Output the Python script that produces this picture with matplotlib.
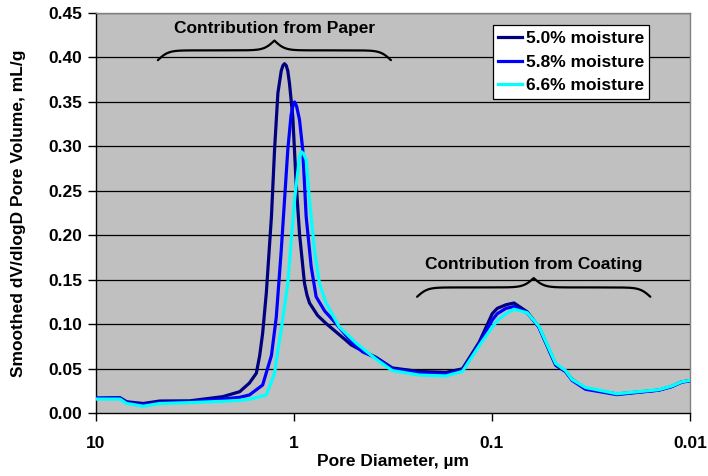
import numpy as np
import matplotlib.pyplot as plt
from matplotlib.ticker import FixedLocator, FixedFormatter, NullLocator

plt.rcParams['font.family'] = ['Liberation Sans', 'DejaVu Sans']
plt.rcParams['font.weight'] = 'bold'

# pore diameter (um) and smoothed dV/dlogD (mL/g) for each moisture level
d_50 = [10, 7.57, 7.0, 5.78, 4.76, 3.36, 2.29, 1.88, 1.68, 1.55, 1.49, 1.44, 1.38, 1.30,
        1.254, 1.206, 1.16, 1.137, 1.117, 1.095, 1.075, 1.054, 1.014, 0.975, 0.938, 0.885,
        0.86, 0.835, 0.76, 0.689, 0.546, 0.515, 0.45, 0.386, 0.319, 0.233, 0.171, 0.141,
        0.116, 0.0997, 0.094, 0.085, 0.0774, 0.0664, 0.058, 0.0477, 0.0425, 0.0394,
        0.0337, 0.0234, 0.0144, 0.0124, 0.011, 0.01]
v_50 = [0.017, 0.0175, 0.013, 0.011, 0.0138, 0.014, 0.0187, 0.0243, 0.034, 0.045, 0.065,
        0.09, 0.135, 0.221, 0.296, 0.36, 0.385, 0.391, 0.393, 0.391, 0.385, 0.371, 0.333,
        0.258, 0.202, 0.146, 0.133, 0.124, 0.11, 0.101, 0.082, 0.077, 0.070, 0.063, 0.051,
        0.047, 0.046, 0.050, 0.080, 0.112, 0.118, 0.122, 0.124, 0.114, 0.097, 0.054, 0.047,
        0.038, 0.028, 0.0217, 0.026, 0.030, 0.0355, 0.0366]

d_58 = [10, 7.57, 7.0, 5.78, 4.76, 3.36, 2.29, 1.88, 1.68, 1.44, 1.30, 1.229, 1.16, 1.075,
        1.035, 1.01, 0.994, 0.97, 0.938, 0.903, 0.868, 0.819, 0.773, 0.70, 0.637, 0.506,
        0.45, 0.386, 0.319, 0.233, 0.171, 0.141, 0.116, 0.0997, 0.094, 0.085, 0.0774,
        0.0664, 0.058, 0.0477, 0.0425, 0.0394, 0.0337, 0.0234, 0.0144, 0.0124, 0.011, 0.01]
v_58 = [0.017, 0.0172, 0.012, 0.0095, 0.012, 0.013, 0.016, 0.018, 0.0206, 0.0318, 0.065,
        0.108, 0.183, 0.296, 0.335, 0.347, 0.35, 0.345, 0.33, 0.296, 0.221, 0.165, 0.131,
        0.115, 0.105, 0.079, 0.069, 0.0625, 0.050, 0.045, 0.044, 0.048, 0.078, 0.105,
        0.112, 0.118, 0.120, 0.113, 0.097, 0.055, 0.047, 0.037, 0.027, 0.021, 0.026, 0.030,
        0.035, 0.0365]

d_66 = [10, 7.57, 7.0, 5.78, 4.76, 3.36, 2.29, 1.88, 1.68, 1.38, 1.254, 1.206, 1.16, 1.075,
        0.994, 0.938, 0.92, 0.895, 0.868, 0.835, 0.788, 0.744, 0.689, 0.59, 0.486, 0.386,
        0.319, 0.233, 0.171, 0.141, 0.116, 0.0997, 0.094, 0.085, 0.0774, 0.0664, 0.058,
        0.0477, 0.0425, 0.0394, 0.0337, 0.0234, 0.0144, 0.0124, 0.011, 0.01]
v_66 = [0.016, 0.016, 0.011, 0.008, 0.011, 0.012, 0.0135, 0.0145, 0.0158, 0.0206, 0.045,
        0.071, 0.094, 0.146, 0.24, 0.288, 0.294, 0.292, 0.285, 0.24, 0.183, 0.146, 0.124,
        0.097, 0.079, 0.061, 0.048, 0.043, 0.042, 0.047, 0.076, 0.097, 0.104, 0.112, 0.117,
        0.113, 0.098, 0.056, 0.048, 0.038, 0.029, 0.022, 0.0265, 0.0305, 0.0355, 0.037]

series_labels = ['5.0% moisture', '5.8% moisture', '6.6% moisture']
series_colors = ['#000080', '#0000FF', '#00FFFF']

x_ticks = [10, 1, 0.1, 0.01]
x_tick_labels = ['10', '1', '0.1', '0.01']
y_ticks = [0.0, 0.05, 0.10, 0.15, 0.20, 0.25, 0.30, 0.35, 0.40, 0.45]

FS = 12.5


def brace(ax, x_left, x_right, y_end, y_tip, beta=45):
    # curly brace, pointing up, drawn linearly in log10(x)
    t = np.linspace(0, 1, 401)
    half = t[:201]
    yh = 1 / (1 + np.exp(-beta * (half - half[0]))) + 1 / (1 + np.exp(-beta * (half - half[-1])))
    yy = np.concatenate((yh, yh[-2::-1])) - 0.5  # 0 at the ends, 1 at the tip
    lx = np.log10(x_left) + t * (np.log10(x_right) - np.log10(x_left))
    ax.plot(10 ** lx, y_end + yy * (y_tip - y_end), color='black', lw=1.6,
            solid_capstyle='round', zorder=4)


fig = plt.figure(figsize=(7.08, 4.76), dpi=100)
ax = fig.add_axes([96 / 708, 1 - 413.3 / 476, 594 / 708, 400.3 / 476])
ax.set_facecolor('#C0C0C0')

for yt in y_ticks[1:]:
    ax.axhline(yt, color='black', lw=0.9, zorder=1)

for d, v, lab, c in zip([d_50, d_58, d_66], [v_50, v_58, v_66], series_labels, series_colors):
    ax.plot(d, v, color=c, lw=2.3, label=lab, zorder=3, solid_joinstyle='round')

ax.set_xscale('log')
ax.set_xlim(10, 0.01)
ax.set_ylim(0, 0.45)
ax.xaxis.set_major_locator(FixedLocator(x_ticks))
ax.xaxis.set_major_formatter(FixedFormatter(x_tick_labels))
ax.xaxis.set_minor_locator(NullLocator())
ax.set_yticks(y_ticks)
ax.set_yticklabels([f'{v:.2f}' for v in y_ticks])
ax.tick_params(axis='both', direction='out', length=6, width=1, labelsize=FS, colors='black')
ax.tick_params(axis='y', pad=4)
ax.tick_params(axis='x', pad=10)

for s in ['left', 'bottom']:
    ax.spines[s].set_color('black')
    ax.spines[s].set_linewidth(1)
for s in ['top', 'right']:
    ax.spines[s].set_color('#808080')
    ax.spines[s].set_linewidth(1)

ax.set_xlabel('Pore Diameter, µm', fontsize=FS, fontweight='bold')
ax.set_ylabel('Smoothed dV/dlogD Pore Volume, mL/g', fontsize=FS, fontweight='bold')
ax.xaxis.set_label_coords(0.5, -0.102)
ax.yaxis.set_label_coords(-0.118, 0.5)

brace(ax, 4.87, 0.324, 0.397, 0.419)
ax.text(1.254, 0.433, 'Contribution from Paper', ha='center', va='center',
        fontsize=FS, fontweight='bold')
brace(ax, 0.239, 0.01586, 0.131, 0.152)
ax.text(0.0614, 0.167, 'Contribution from Coating', ha='center', va='center',
        fontsize=FS, fontweight='bold')

leg = ax.legend(loc='upper right', bbox_to_anchor=(0.931, 0.969), borderaxespad=0,
                fancybox=False, framealpha=1, edgecolor='black', fontsize=FS,
                handlelength=1.4, handletextpad=0.2, borderpad=0.3, labelspacing=0.5)
leg.get_frame().set_linewidth(0.9)
for txt in leg.get_texts():
    txt.set_fontweight('bold')

fig.savefig('out.png', dpi=100)
